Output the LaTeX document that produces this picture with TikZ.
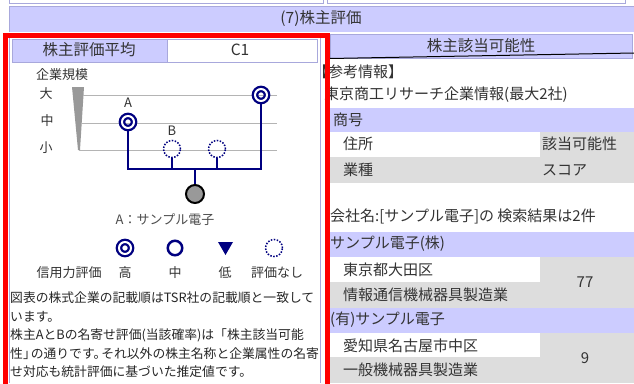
\documentclass[tikz,border=0pt]{standalone}
\usepackage{fontspec}
\setmainfont{Noto Sans CJK JP}
\usetikzlibrary{positioning}

\definecolor{lav}{HTML}{CCCCFF}
\definecolor{lavline}{HTML}{A8A8DC}
\definecolor{rowgray}{HTML}{DDDDDD}
\definecolor{treeblue}{HTML}{000080}
\definecolor{wedgegray}{HTML}{999999}
\definecolor{scalegray}{HTML}{B4B4B4}
\definecolor{txtgray}{HTML}{333333}

\tikzset{
  headtxt/.style={font=\fontsize{15.5pt}{17pt}\selectfont, text=txtgray, inner sep=0pt},
  bodytxt/.style={font=\fontsize{15pt}{17pt}\selectfont, text=txtgray, inner sep=0pt, anchor=west},
  smalltxt/.style={font=\fontsize{13pt}{15pt}\selectfont, text=txtgray, inner sep=0pt},
  notetxt/.style={font=\fontsize{12.8pt}{15pt}\selectfont, text=black!85, inner sep=0pt, anchor=west},
  cellline/.style={draw=lavline, line width=1pt},
  scaleline/.style={draw=scalegray, line width=1pt},
  treeline/.style={draw=treeblue, line width=2pt},
  rankhi/.style={circle, draw=treeblue, line width=2.3pt, double=white, double distance=2pt, minimum size=12pt, inner sep=0pt},
  rankmid/.style={circle, draw=treeblue, line width=2.5pt, minimum size=14.5pt, inner sep=0pt},
  ranknone/.style={circle, draw=treeblue, line width=1.5pt, dash pattern=on 1.5pt off 1.5pt, minimum size=17pt, inner sep=0pt},
  rootdot/.style={circle, draw=black, fill=wedgegray, line width=2pt, minimum size=18pt, inner sep=0pt}
}

\begin{document}
\begin{tikzpicture}[x=1pt,y=-1pt]
	\useasboundingbox (0,0) rectangle (634,383);
	\fill[white] (0,0) rectangle (634,383);
	% top strip and section header
	\draw[cellline] (9,-3) rectangle (323,3);
	\draw[cellline] (327,-3) rectangle (625,3);
	\fill[lav] (9,6) rectangle (634,32);
	\draw[cellline] (634,6) -- (9,6) -- (9,32);
	\node[headtxt] (head) at (321,19) {(7)株主評価};
	% left panel border
	\draw[cellline] (9,38) -- (9,383);
	\draw[cellline] (320,38) -- (320,383);
	% average cell
	\draw[cellline, fill=lav] (12,39) rectangle (167,62);
	\draw[cellline, fill=white] (167,39) rectangle (317,62);
	\node[headtxt] (avglbl) at (89,50) {株主評価平均};
	\node[headtxt] (avgval) at (240,50) {C1};
	% size scale
	\node[smalltxt] (scale) at (62,75) {企業規模};
	\node[smalltxt] (big) at (46,94) {大};
	\node[smalltxt] (mid) at (47,121) {中};
	\node[smalltxt] (small) at (46,148) {小};
	\fill[wedgegray] (72,87) -- (84,87) -- (80,150) -- (78,150) -- cycle;
	\draw[scaleline] (83,95) -- (277,95);
	\draw[scaleline] (81,123) -- (277,123);
	\draw[scaleline] (79,150) -- (277,150);
	% holders tree
	\node[rankhi] (ca) at (128,122) {};
	\node[smalltxt] (la) at (128,103) {A};
	\node[rankhi] (cbig) at (261,95) {};
	\node[ranknone] (cb1) at (172,149) {};
	\node[smalltxt] (lb) at (172,131) {B};
	\node[ranknone] (cb2) at (217,149) {};
	\node[rootdot] (root) at (195,194) {};
	\coordinate (bus) at (195,169);
	\draw[treeline] (ca) -- (ca |- bus) -- (cbig |- bus) -- (cbig);
	\draw[treeline] (cb1) -- (cb1 |- bus);
	\draw[treeline] (cb2) -- (cb2 |- bus);
	\draw[treeline] (bus) -- (root);
	\node[smalltxt, text=black!70] (rootname) at (165,220) {A：サンプル電子};
	% legend
	\node[rankhi] (lghi) at (125,248) {};
	\node[rankmid] (lgmid) at (175,248) {};
	\fill[treeblue] (218,242) -- (233,242) -- (225.5,255) -- cycle;
	\node[ranknone] (lgnone) at (274,248) {};
	\node[smalltxt] (credit) at (69,273) {信用力評価};
	\node[smalltxt] (hi) at (125,273) {高};
	\node[smalltxt] (md) at (175,273) {中};
	\node[smalltxt] (lo) at (225,273) {低};
	\node[smalltxt] (na) at (277,273) {評価なし};
	% note
	\node[notetxt] (n1) at (10,298) {図表の株式企業の記載順はTSR社の記載順と一致して};
	\node[notetxt] (n2) at (10,317) {います。};
	\node[notetxt] (n3) at (10,335) {株主AとBの名寄せ評価(当該確率)は「株主該当可能};
	\node[notetxt] (n4) at (10,354) {性」\kern-5pt の通りです。\kern-5pt それ以外の株主名称と企業属性の名寄};
	\node[notetxt] (n5) at (10,372) {せ対応も統計評価に基づいた推定値です。};
	% right panel
	\draw[cellline, fill=lav] (330,34) rectangle (632,58);
	\node[headtxt] (likely) at (481,46) {株主該当可能性};
	\draw[black, line width=1pt] (330,58.5) -- (634,53);
	\node[bodytxt] (refinfo) at (313,72) {【参考情報】};
	\node[bodytxt] (tsr) at (324,95) {東京商工リサーチ企業情報(最大2社)};
	\fill[lav] (330,108) rectangle (634,132);
	\fill[rowgray] (540,132) rectangle (634,157);
	\fill[rowgray] (330,157) rectangle (634,183);
	\node[bodytxt] (shogo) at (333,120) {商号};
	\node[bodytxt] (addr) at (343,144) {住所};
	\node[bodytxt] (ind) at (343,170) {業種};
	\node[bodytxt] (prob) at (542,144) {該当可能性};
	\node[bodytxt] (score) at (542,170) {スコア};
	\node[bodytxt] (result) at (330,216) {会社名:[サンプル電子]の 検索結果は2件};
	\fill[lav] (330,232) rectangle (634,257);
	\fill[rowgray] (540,257) rectangle (634,308);
	\fill[rowgray] (330,282) rectangle (634,308);
	\fill[lav] (330,308) rectangle (634,333);
	\fill[rowgray] (540,333) rectangle (634,383);
	\fill[rowgray] (330,357) rectangle (634,383);
	\node[bodytxt] (co1) at (330,244) {サンプル電子(株)};
	\node[bodytxt] (ad1) at (343,270) {東京都大田区};
	\node[bodytxt] (in1) at (343,295) {情報通信機械器具製造業};
	\node[bodytxt, anchor=center] (sc1) at (585,282) {77};
	\node[bodytxt] (co2) at (330,320) {(有)サンプル電子};
	\node[bodytxt] (ad2) at (343,346) {愛知県名古屋市中区};
	\node[bodytxt] (in2) at (343,370) {一般機械器具製造業};
	\node[bodytxt, anchor=center] (sc2) at (585,358) {9};
	% highlight frame
	\draw[red, line width=5pt] (5.5,35.5) rectangle (327.5,400);
\end{tikzpicture}
\end{document}
